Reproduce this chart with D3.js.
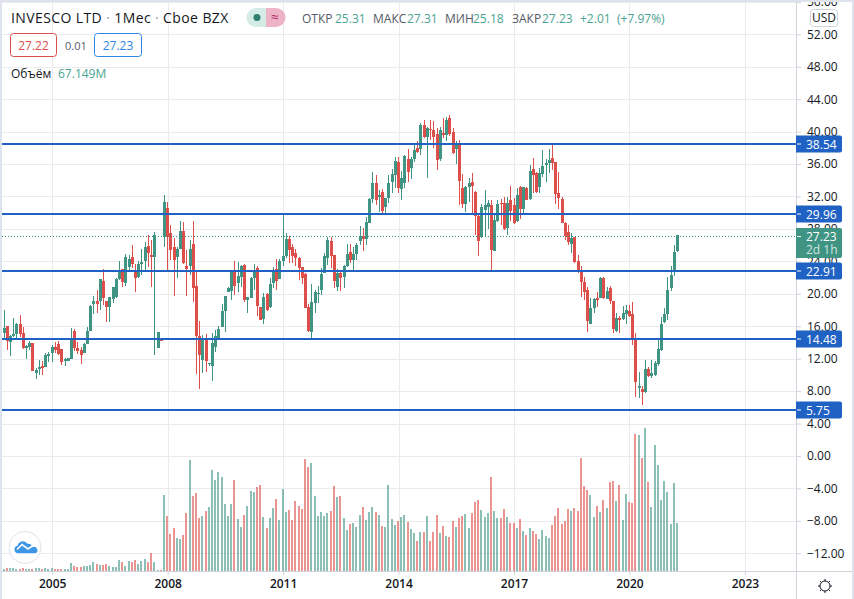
<!DOCTYPE html>
<html>
<head>
<meta charset="utf-8">
<script src="https://cdn.jsdelivr.net/npm/d3@7"></script>
<style>
  html, body { margin: 0; padding: 0; background: #fff; }
  svg { display: block; font-family: "Open Sans", sans-serif; }
</style>
</head>
<body>
<svg id="chart" width="854" height="599"></svg>
<script>
// monthly bars, first one sits 16 months before Jan 2005
const firstMonth = -16;

const opens = [
  16.48,15.13,16.03,14.1,14.8,15.04,16.24,15.13,13.36,13.48,13.93,10.28,10.77,11.1,11.02,12.37,
  12.66,13.48,13.81,13.15,11.67,11.76,12.0,15.41,13.32,13.07,12.74,13.85,
  15.46,18.74,19.11,19.15,21.58,19.11,18.41,19.4,19.57,21.83,23.06,21.37,
  23.31,24.54,22.85,22.11,23.68,24.09,25.94,24.79,24.58,13.36,14.43,27.05,
  30.54,27.5,25.81,24.58,25.48,27.74,23.43,23.43,26.14,20.96,14.8,11.84,
  14.59,11.35,11.14,13.44,14.59,15.91,17.92,20.26,20.35,22.73,21.29,22.03,
  23.55,19.24,19.52,21.95,23.14,18.37,16.9,19.98,18.37,21.38,23.06,21.83,
  24.05,24.66,26.76,25.73,25.03,24.46,23.27,22.44,18.33,15.33,18.9,19.98,
  20.47,22.61,24.46,26.51,24.79,20.84,22.61,22.11,23.47,25.12,24.17,24.95,
  26.55,27.13,26.72,28.77,31.65,33.67,31.98,32.56,30.67,31.82,33.75,34.65,
  36.26,32.93,33.62,36.58,35.52,36.62,38.02,37.86,40.82,39.38,40.28,40.2,
  39.67,36.58,39.87,39.58,41.68,39.91,37.82,38.56,33.01,31.08,33.13,33.79,
  32.56,29.6,26.97,30.34,30.67,30.91,25.28,29.02,31.16,31.24,28.08,31.57,
  30.95,29.02,33.17,30.46,33.05,31.65,35.39,34.94,33.13,34.77,35.88,36.09,
  36.71,36.25,32.39,31.69,28.69,27.62,26.14,26.97,24.01,22.73,21.5,20.47,
  16.28,18.29,19.53,19.53,21.91,19.36,20.68,19.07,15.46,17.06,16.94,17.55,
  17.84,17.51,14.55,8.43,8.22,7.93,10.73,9.91,9.99,11.35,13.07,16.53,
  17.55,20.76,22.86,25.31
];
const highs = [
  18.2,18.0,16.03,14.92,16.98,16.36,17.35,15.87,13.69,14.22,13.93,10.89,11.84,11.71,12.66,12.87,
  13.69,14.02,14.18,13.15,12.04,12.13,15.78,15.62,14.02,13.48,13.89,15.87,
  18.58,19.73,20.47,21.83,23.02,19.11,19.65,20.88,21.91,24.05,23.06,24.87,
  24.79,25.98,23.68,24.05,25.48,26.43,27.21,26.63,27.58,15.25,14.43,32.18,
  31.28,28.48,26.92,25.81,28.94,28.9,25.4,26.63,28.94,22.94,16.65,14.92,
  15.04,11.51,15.21,15.54,16.03,18.78,19.73,20.88,22.94,24.05,23.96,23.55,
  23.68,19.65,22.03,23.68,23.39,18.41,20.06,20.06,21.91,23.35,24.29,24.29,
  29.8,27.46,27.17,26.1,25.53,24.58,23.35,22.53,18.74,21.2,20.47,20.96,
  23.14,25.08,26.97,26.97,24.79,23.06,22.94,23.55,26.14,26.1,25.82,26.23,
  28.36,28.08,29.43,31.86,35.02,34.65,32.8,32.88,31.86,34.69,35.35,36.91,
  36.91,35.19,37.12,37.86,36.91,38.56,38.8,41.02,41.43,40.61,41.43,41.35,
  40.41,40.61,41.64,41.84,42.05,40.41,38.89,38.97,34.78,33.3,34.24,34.86,
  32.72,29.93,31.08,32.8,31.57,31.57,29.72,31.57,31.65,31.98,31.9,33.3,
  31.86,33.01,33.3,33.13,33.13,35.89,36.79,35.06,35.47,37.73,36.58,37.86,
  38.47,36.3,35.02,31.9,28.9,28.49,27.46,27.05,24.75,23.43,22.12,20.8,
  19.44,19.44,20.27,22.03,22.03,20.88,20.96,19.11,17.59,17.27,18.5,18.62,
  18.62,18.95,15.13,10.32,8.63,11.84,11.02,11.84,11.72,14.43,17.1,18.29,
  22.12,23.43,26.02,27.31
];
const lows = [
  15.09,14.51,13.07,12.37,14.72,14.51,14.72,13.24,11.96,13.07,10.48,9.54,9.99,9.99,11.02,11.59,
  11.59,12.66,12.46,11.22,11.1,11.76,11.96,12.95,12.58,11.35,12.66,13.85,
  15.46,17.51,17.68,18.0,18.62,16.57,16.57,18.83,19.44,21.7,20.88,20.96,
  22.73,23.14,20.26,21.91,22.32,22.94,23.35,20.88,12.46,13.36,14.22,25.81,
  22.73,24.17,19.73,21.99,25.48,23.68,19.73,22.32,18.95,10.11,8.26,10.28,
  10.4,11.14,9.25,12.87,14.51,15.87,15.33,20.18,19.24,19.85,20.18,20.88,
  19.03,17.68,19.44,20.47,17.26,16.77,16.28,17.92,18.21,20.76,20.47,21.83,
  23.47,24.38,23.76,23.76,23.47,21.7,21.21,18.2,15.25,14.5,17.67,18.9,
  19.85,22.53,23.55,23.14,20.68,20.39,20.39,20.68,23.35,23.76,22.73,24.17,
  26.02,25.32,26.02,28.77,31.16,30.95,30.13,29.93,29.93,31.24,32.39,33.05,
  32.39,31.57,33.0,33.83,34.16,36.3,37.32,37.12,39.17,34.28,38.97,37.94,
  35.27,36.42,39.17,38.89,39.46,37.24,36.01,30.95,30.54,30.13,31.36,29.93,
  27.25,24.71,26.84,27.05,27.95,22.86,25.28,28.9,28.49,27.87,27.25,28.98,
  28.61,28.9,29.23,29.8,31.57,31.57,32.39,32.39,32.39,34.44,33.83,34.94,
  35.27,31.08,30.46,28.69,26.64,26.02,25.07,23.76,22.53,19.65,19.24,15.33,
  16.28,17.68,18.33,19.44,19.36,19.36,18.75,15.13,15.29,15.21,16.77,16.28,
  17.18,13.69,7.32,7.2,6.29,7.81,9.7,9.66,9.91,11.14,12.99,16.36,
  16.77,20.35,22.24,25.18
];
const closes = [
  15.09,15.74,14.22,14.8,15.04,16.28,15.04,13.36,13.57,13.93,10.52,10.56,10.93,10.89,12.46,12.58,
  13.4,13.07,12.58,11.63,11.92,12.04,14.51,13.36,12.95,12.5,13.81,15.41,
  18.5,19.11,18.74,21.83,19.52,18.37,19.61,20.84,21.83,22.94,21.46,24.54,
  24.33,23.68,21.95,23.68,23.92,25.77,25.03,24.54,27.25,15.25,14.22,31.28,
  27.05,25.4,24.17,25.53,27.74,23.76,23.06,25.53,20.76,14.8,12.5,14.59,
  11.71,11.47,13.93,14.8,15.66,17.88,19.73,20.72,22.94,20.96,22.2,23.43,
  19.24,19.57,21.91,22.94,18.54,16.77,19.61,18.0,21.21,22.94,21.58,24.05,
  24.66,26.76,25.4,24.66,24.46,23.14,21.95,18.3,15.41,18.95,20.26,20.14,
  22.44,24.66,26.64,24.66,21.58,22.61,21.95,23.47,24.91,24.17,24.91,26.06,
  27.13,26.72,28.86,31.69,33.67,31.57,32.19,30.21,31.78,33.63,34.78,36.38,
  33.05,34.28,37.0,35.02,36.62,37.73,37.49,40.82,39.3,40.49,40.2,39.3,
  36.5,40.2,39.58,41.43,39.71,37.41,38.56,33.91,31.08,33.13,33.62,33.3,
  29.64,26.51,30.67,30.91,31.24,25.4,29.1,31.08,31.08,27.95,31.24,30.21,
  28.69,32.19,30.46,33.13,31.57,35.19,34.69,32.56,34.9,35.76,36.09,36.5,
  36.09,32.31,31.82,28.77,27.13,26.43,26.88,23.92,22.73,21.5,20.27,16.69,
  18.21,19.36,19.24,21.91,19.53,20.35,19.11,15.66,16.98,16.81,17.64,17.96,
  17.31,14.39,9.09,8.59,7.93,10.73,9.87,10.2,11.47,13.2,16.28,17.51,
  20.47,22.32,25.16,27.23
];
// volume in millions
const volumes = [
  2.8,2.8,4.2,4.2,4.2,2.8,2.8,4.2,2.8,2.8,2.8,4.2,4.2,2.8,4.2,2.8,
  4.2,2.8,2.8,2.8,2.8,2.8,11.2,7,5.6,5.6,7,7,
  8.4,12.6,9.8,8.4,8.4,9.8,7,5.6,5.6,15.4,12.6,7,
  14,12.6,15.4,9.8,14,16.8,12.6,25.2,12.6,1.4,1.4,106.4,
  77,51.8,60.2,46.2,44.8,50.4,81.2,155.4,105,109.2,74.2,77,
  84,89.6,141.4,127.4,138.6,131.6,93.8,77,93.8,127.4,72.8,61.6,
  78.4,91,112,110.6,117.6,120.4,75.6,60.2,74.2,88.2,100.8,71.4,
  114.8,82.6,85.4,71.4,98,91,86.8,156.8,145.6,151.2,105,77,
  82.6,77,81.2,84,119,103.6,105,74.2,57.4,65.8,67.2,61.6,
  78.4,89.6,71.4,82.6,89.6,82.6,78.4,63,61.6,120.4,72.8,64.4,
  70,75.6,78.4,68.6,58.8,53.2,42,54.6,54.6,77,42,54.6,
  78.4,53.2,63,49,47.6,70,61.6,74.2,77,79.8,60.2,81.2,
  96.6,99.4,85.4,75.6,81.2,131.6,84,74.2,74.2,86.8,75.6,67.2,
  67.2,60.2,72.8,56,50.4,60.2,56,51.8,44.8,57.4,49,46.2,
  64.4,77,88.2,65.8,70,86.8,84,88.2,84,158.2,119,113.4,
  106.4,75.6,91,82.6,99.4,88.2,124.6,126,98,120.4,71.4,107.8,
  96.6,95.2,191.8,190.4,158.2,200.2,124.6,89.6,176.4,148.4,99.4,126,
  110.6,65.8,123.2,67.149
];

const priceTicks = [56,52,48,44,40,36,32,28,24,20,16,12,8,4,0,-4,-8,-12];
const yearLabels = ['2005','2008','2011','2014','2017','2020','2023'];
const levels = [38.54, 29.96, 22.91, 14.48, 5.75];
const lastClose = 27.23;

const green = '#3f9484', red = '#dc4f4a', blue = '#1f62c4';
const plot = { left: 2, right: 796, top: 2, bottom: 571 };

const svg = d3.select('#chart');

// x is months from Jan 2005, tv style index scale
const x = d3.scaleLinear().domain([0, 216]).range([52.2, 744.9]);
const y = d3.scaleLinear().domain([0, 52]).range([456, 34.3]);
const volY = d3.scaleLinear().domain([0, 200.2]).range([571, 428]);

svg.append('defs').append('clipPath').attr('id', 'plot-clip')
  .append('rect')
  .attr('x', plot.left).attr('y', plot.top)
  .attr('width', plot.right - plot.left).attr('height', plot.bottom - plot.top);

const bars = d3.range(opens.length).map(i => ({
  month: firstMonth + i,
  o: opens[i], h: highs[i], l: lows[i], c: closes[i], v: volumes[i]
}));
const barColor = d => d.c >= d.o ? green : red;
const px = d => Math.floor(x(d.month));
const levelY = d => Math.round(y(d) + .5);
const lastY = Math.floor(y(lastClose)) + 1.5;
const yearTickMonths = yearLabels.map(s => (+s - 2005) * 12);

// grid
const grid = svg.append('g').attr('clip-path', 'url(#plot-clip)').attr('shape-rendering', 'crispEdges');
grid.selectAll('line.h').data(priceTicks).join('line')
  .attr('class', 'h')
  .attr('x1', plot.left).attr('x2', plot.right)
  .attr('y1', d => Math.round(y(d)) + .5).attr('y2', d => Math.round(y(d)) + .5)
  .attr('stroke', '#ebebee');
grid.selectAll('line.v').data(yearTickMonths).join('line')
  .attr('class', 'v')
  .attr('x1', d => Math.round(x(d)) + .5).attr('x2', d => Math.round(x(d)) + .5)
  .attr('y1', plot.top).attr('y2', plot.bottom)
  .attr('stroke', '#ebebee');

// volume
const chart = svg.append('g').attr('clip-path', 'url(#plot-clip)').attr('shape-rendering', 'crispEdges');
chart.selectAll('rect.vol').data(bars).join('rect')
  .attr('class', 'vol')
  .attr('x', d => px(d) - 1)
  .attr('width', 2)
  .attr('y', d => volY(d.v))
  .attr('height', d => volY(0) - volY(d.v))
  .attr('fill', barColor)
  .attr('fill-opacity', .6);

// candles
chart.selectAll('rect.wick').data(bars).join('rect')
  .attr('class', 'wick')
  .attr('x', px)
  .attr('width', 1)
  .attr('y', d => y(d.h))
  .attr('height', d => y(d.l) - y(d.h))
  .attr('fill', barColor);
chart.selectAll('rect.body').data(bars).join('rect')
  .attr('class', 'body')
  .attr('x', d => px(d) - 1)
  .attr('width', 3)
  .attr('y', d => y(Math.max(d.o, d.c)))
  .attr('height', d => Math.max(1, Math.abs(y(d.o) - y(d.c))))
  .attr('fill', barColor);

// last price dotted line
chart.append('line')
  .attr('x1', plot.left).attr('x2', plot.right)
  .attr('y1', lastY).attr('y2', lastY)
  .attr('stroke', '#2f9180').attr('stroke-dasharray', '1 2');

// horizontal levels
chart.selectAll('line.level').data(levels).join('line')
  .attr('class', 'level')
  .attr('x1', plot.left).attr('x2', plot.right)
  .attr('y1', levelY).attr('y2', levelY)
  .attr('stroke', blue).attr('stroke-width', 2);

// frame lines of the panes
svg.append('line').attr('x1', plot.right + .5).attr('x2', plot.right + .5).attr('y1', 0).attr('y2', 599)
  .attr('stroke', '#d1d4dc').attr('shape-rendering', 'crispEdges');
svg.append('line').attr('x1', 0).attr('x2', 852).attr('y1', 571.5).attr('y2', 571.5)
  .attr('stroke', '#d1d4dc').attr('shape-rendering', 'crispEdges');

// price axis
const yAxis = svg.append('g')
  .attr('transform', `translate(${plot.right + 1},0)`)
  .call(d3.axisRight(y).tickValues(priceTicks).tickSize(4).tickPadding(6)
    .tickFormat(d => (d < 0 ? '\u2212' + (-d).toFixed(2) : d.toFixed(2))));
yAxis.select('.domain').remove();
yAxis.selectAll('line').attr('stroke', '#d1d4dc');
yAxis.selectAll('text').attr('fill', '#131722').style('font-size', '12px').style('font-family', '"Open Sans", sans-serif');

// time axis
const xAxis = svg.append('g')
  .attr('transform', `translate(0,${plot.bottom + 1})`)
  .call(d3.axisBottom(x).tickValues(yearTickMonths).tickSize(3).tickPadding(4)
    .tickFormat((d, i) => yearLabels[i]));
xAxis.select('.domain').remove();
xAxis.selectAll('line').attr('stroke', '#d1d4dc');
xAxis.selectAll('text').attr('fill', '#131722').attr('font-weight', 600).style('font-size', '12px').style('font-family', '"Open Sans", sans-serif');

// labels on the price scale
const levelTags = svg.append('g');
levelTags.selectAll('path').data(levels).join('path')
  .attr('d', d => {
    const t = levelY(d) - 8.5;
    return `M796,${t}H840a2,2 0 0 1 2,2V${t + 15}a2,2 0 0 1 -2,2H796Z`;
  })
  .attr('fill', blue);
levelTags.selectAll('line').data(levels).join('line')
  .attr('x1', 797).attr('x2', 801)
  .attr('y1', levelY).attr('y2', levelY)
  .attr('stroke', '#fff');
levelTags.selectAll('text').data(levels).join('text')
  .attr('x', 806).attr('y', d => levelY(d) + 4.5)
  .attr('fill', '#fff').style('font-size', '12px')
  .text(d => d.toFixed(2));

const lastTag = svg.append('g');
lastTag.append('path').attr('d', 'M796,228H840a2,2 0 0 1 2,2V256a2,2 0 0 1 -2,2H796Z').attr('fill', green);
lastTag.append('line').attr('x1', 797).attr('x2', 801)
  .attr('y1', lastY).attr('y2', lastY).attr('stroke', '#fff');
lastTag.append('text').attr('x', 806).attr('y', 240.5).attr('fill', '#fff').style('font-size', '12px').text(lastClose.toFixed(2));
lastTag.append('text').attr('x', 806).attr('y', 254).attr('fill', '#cfe6e0').style('font-size', '12px').text('2d 1h');

// USD button
svg.append('rect').attr('x', 810.5).attr('y', 9.5).attr('width', 27).attr('height', 17).attr('rx', 3)
  .attr('fill', '#fff').attr('stroke', '#d1d4dc');
svg.append('text').attr('x', 824).attr('y', 22).attr('text-anchor', 'middle')
  .attr('fill', '#131722').style('font-size', '12px').text('USD');

// legend
const legend = svg.append('g');
const title = legend.append('text').attr('x', 11).attr('y', 22.5).attr('fill', '#131722')
  .style('font-size', '14px').style('letter-spacing', '.4px');
title.append('tspan').text('INVESCO LTD');
title.append('tspan').attr('fill', '#9598a1').attr('dx', 4).text('\u00b7');
title.append('tspan').attr('dx', 4).text('1Мес');
title.append('tspan').attr('fill', '#9598a1').attr('dx', 4).text('\u00b7');
title.append('tspan').attr('dx', 4).text('Cboe BZX');

legend.append('path').attr('d', 'M266,8H256a9.5,9.5 0 0 0 0,19H266Z').attr('fill', '#d5ebe6');
legend.append('path').attr('d', 'M266,8H276a9.5,9.5 0 0 1 0,19H266Z').attr('fill', '#edb4c8');
legend.append('circle').attr('cx', 257).attr('cy', 17.5).attr('r', 3.5).attr('fill', '#2f8071');
legend.append('text').attr('x', 275).attr('y', 22).attr('text-anchor', 'middle')
  .attr('fill', '#b02a66').style('font-size', '14px').text('\u2248');

const ohlc = [
  ['ОТКР', 302, '#555a66'], ['25.31', 335, '#4aa391'],
  ['МАКС', 373, '#555a66'], ['27.31', 407, '#4aa391'],
  ['МИН', 445, '#555a66'], ['25.18', 473, '#4aa391'],
  ['ЗАКР', 512, '#555a66'], ['27.23', 542, '#4aa391'],
  ['+2.01', 580, '#4aa391'], ['(+7.97%)', 617, '#4aa391']
];
legend.selectAll('text.ohlc').data(ohlc).join('text')
  .attr('class', 'ohlc')
  .attr('x', d => d[1]).attr('y', 22.5)
  .attr('fill', d => d[2]).style('font-size', '12px')
  .text(d => d[0]);

legend.append('rect').attr('x', 10.5).attr('y', 33.5).attr('width', 46).attr('height', 23).attr('rx', 3)
  .attr('fill', '#fff').attr('stroke', '#dc4f4a');
legend.append('text').attr('x', 33.5).attr('y', 49.5).attr('text-anchor', 'middle')
  .attr('fill', '#dc4f4a').style('font-size', '12px').text('27.22');
legend.append('text').attr('x', 65).attr('y', 49.5)
  .attr('fill', '#555a66').style('font-size', '11px').text('0.01');
legend.append('rect').attr('x', 94.5).attr('y', 33.5).attr('width', 47).attr('height', 23).attr('rx', 3)
  .attr('fill', '#fff').attr('stroke', '#2e86e6');
legend.append('text').attr('x', 118).attr('y', 49.5).attr('text-anchor', 'middle')
  .attr('fill', '#2e86e6').style('font-size', '12px').text('27.23');
legend.append('text').attr('x', 11).attr('y', 78).attr('fill', '#131722').style('font-size', '12px').text('Объём');
legend.append('text').attr('x', 58).attr('y', 78).attr('fill', '#4aa391').style('font-size', '12px').text('67.149M');

// logo bottom left
const logo = svg.append('g').attr('transform', 'translate(25,547.5)');
logo.append('circle').attr('r', 16).attr('fill', '#fff').attr('stroke', '#e0e3eb');
logo.append('path')
  .attr('d', 'M-7,5.8a3.8,3.8 0 0 1 -.5,-7.5a5.5,5.5 0 0 1 10,-2a4,4 0 0 1 5,3.5a3,3 0 0 1 3,6Z')
  .attr('fill', '#3d97e6');
logo.append('path')
  .attr('d', 'M-8,2L-3,-3L3,1.5L8,-2')
  .attr('fill', 'none').attr('stroke', '#fff').attr('stroke-width', 1.6);

// settings icon
const gear = svg.append('g').attr('transform', 'translate(825,586)');
gear.append('circle').attr('r', 5).attr('fill', 'none').attr('stroke', '#131722');
gear.selectAll('line').data(d3.range(8)).join('line')
  .attr('x1', d => 5 * Math.cos(d * Math.PI / 4)).attr('y1', d => 5 * Math.sin(d * Math.PI / 4))
  .attr('x2', d => 7 * Math.cos(d * Math.PI / 4)).attr('y2', d => 7 * Math.sin(d * Math.PI / 4))
  .attr('stroke', '#131722');

// window frame
svg.append('rect').attr('x', 0).attr('y', 0).attr('width', 2).attr('height', 599).attr('fill', '#dfe3ee');
svg.append('rect').attr('x', 0).attr('y', 0).attr('width', 854).attr('height', 2).attr('fill', '#dfe3ee');
svg.append('rect').attr('x', 852).attr('y', 0).attr('width', 2).attr('height', 599).attr('fill', '#dfe3ee');
</script>
</body>
</html>
